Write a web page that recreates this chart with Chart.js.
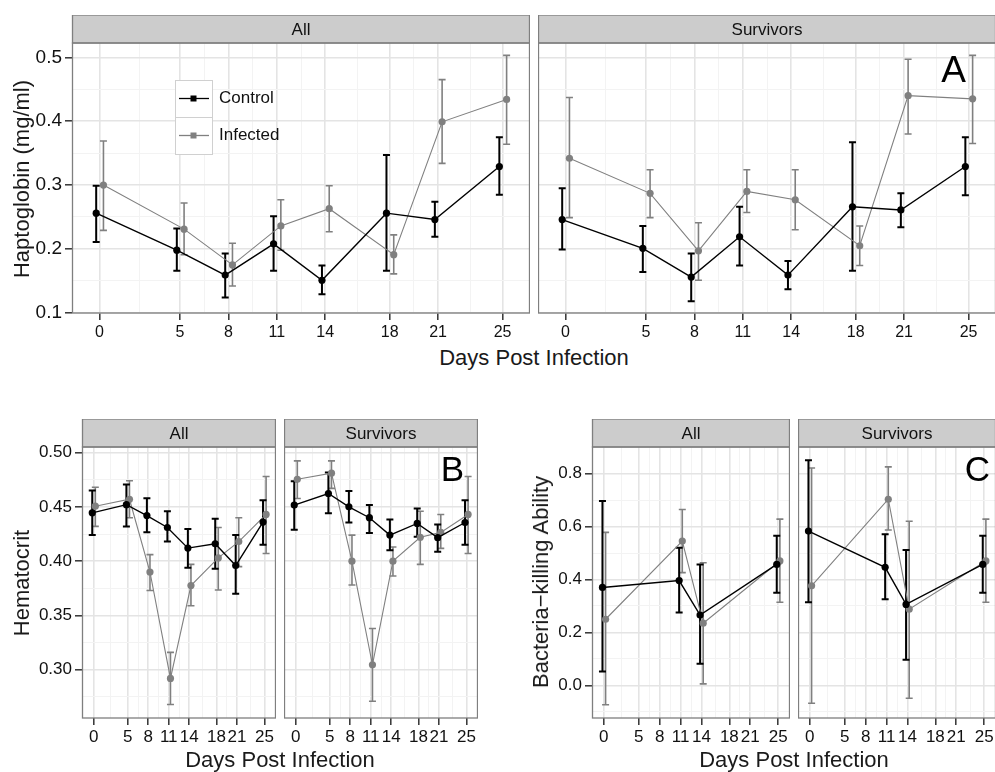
<!DOCTYPE html>
<html>
<head>
<meta charset="utf-8">
<script src="https://cdn.jsdelivr.net/npm/chart.js@4.4.1/dist/chart.umd.min.js"></script>
<style>
  html, body { margin: 0; padding: 0; background: #fff; overflow: hidden; width: 995px; height: 772px; }
  canvas { position: absolute; }
  .t { position: absolute; font-family: "Liberation Sans", Arial, sans-serif; font-size: 22px; color: #1a1a1a; white-space: nowrap; }
  .yt { transform: translate(-50%, -50%) rotate(-90deg); }
  .xt { transform: translate(-50%, -50%); }
</style>
</head>
<body>
<canvas id="aAll"></canvas>
<canvas id="aSurv"></canvas>
<canvas id="bAll"></canvas>
<canvas id="bSurv"></canvas>
<canvas id="cAll"></canvas>
<canvas id="cSurv"></canvas>

<div class="t yt" style="left:22px; top:179px;">Haptoglobin (mg/ml)</div>
<div class="t xt" style="left:534px; top:358px;">Days Post Infection</div>
<div class="t yt" style="left:22px; top:583px;">Hematocrit</div>
<div class="t xt" style="left:280px; top:760px;">Days Post Infection</div>
<div class="t yt" style="left:541px; top:582px;">Bacteria−killing Ability</div>
<div class="t xt" style="left:794px; top:760px;">Days Post Infection</div>

<script>
// sampling days
const days = [0, 5, 8, 11, 14, 18, 21, 25];
const daysKilling = [0, 11, 14, 25];
const xTicks = [0, 5, 8, 11, 14, 18, 21, 25];
const xMinor = [2.5, 6.5, 9.5, 12.5, 16, 19.5, 23];

// A: haptoglobin (mg/ml)
const haptoTicks = [0.1, 0.2, 0.3, 0.4, 0.5];
const haptoLabels = ['0.1', '0.2', '0.3', '0.4', '0.5'];
const haptoMinor = [0.15, 0.25, 0.35, 0.45];
const haptoAllControl   = [0.256, 0.198, 0.159, 0.208, 0.151, 0.256, 0.246, 0.329];
const haptoAllControlLo = [0.211, 0.166, 0.124, 0.166, 0.129, 0.166, 0.219, 0.285];
const haptoAllControlHi = [0.299, 0.232, 0.193, 0.251, 0.174, 0.347, 0.274, 0.375];
const haptoAllInf   = [0.300, 0.231, 0.175, 0.236, 0.263, 0.191, 0.399, 0.434];
const haptoAllInfLo = [0.229, 0.191, 0.142, 0.198, 0.227, 0.161, 0.334, 0.364];
const haptoAllInfHi = [0.369, 0.272, 0.209, 0.277, 0.299, 0.222, 0.465, 0.503];
const haptoSurvControl   = [0.246, 0.201, 0.156, 0.219, 0.159, 0.266, 0.261, 0.329];
const haptoSurvControlLo = [0.199, 0.164, 0.118, 0.174, 0.137, 0.166, 0.234, 0.284];
const haptoSurvControlHi = [0.295, 0.236, 0.193, 0.266, 0.181, 0.367, 0.287, 0.375];
const haptoSurvInf   = [0.342, 0.287, 0.197, 0.290, 0.277, 0.205, 0.440, 0.435];
const haptoSurvInfLo = [0.249, 0.249, 0.151, 0.257, 0.230, 0.174, 0.380, 0.365];
const haptoSurvInfHi = [0.437, 0.324, 0.241, 0.324, 0.324, 0.236, 0.497, 0.503];

// B: hematocrit
const hctTicks = [0.30, 0.35, 0.40, 0.45, 0.50];
const hctLabels = ['0.30', '0.35', '0.40', '0.45', '0.50'];
const hctMinor = [0.275, 0.325, 0.375, 0.425, 0.475];
const hctAllControl   = [0.4445, 0.452, 0.442, 0.431, 0.412, 0.416, 0.396, 0.436];
const hctAllControlLo = [0.424, 0.432, 0.4265, 0.418, 0.394, 0.393, 0.370, 0.415];
const hctAllControlHi = [0.465, 0.4705, 0.458, 0.446, 0.4295, 0.439, 0.424, 0.456];
const hctAllInf   = [0.4506, 0.457, 0.390, 0.292, 0.3775, 0.403, 0.418, 0.443];
const hctAllInfLo = [0.432, 0.440, 0.373, 0.268, 0.359, 0.3735, 0.395, 0.407];
const hctAllInfHi = [0.468, 0.474, 0.406, 0.316, 0.397, 0.431, 0.440, 0.478];
const hctSurvControl   = [0.4516, 0.4623, 0.450, 0.440, 0.424, 0.4347, 0.4216, 0.4356];
const hctSurvControlLo = [0.429, 0.444, 0.4356, 0.426, 0.410, 0.4225, 0.4087, 0.415];
const hctSurvControlHi = [0.4736, 0.4816, 0.4647, 0.4516, 0.4384, 0.4485, 0.4338, 0.456];
const hctSurvInf   = [0.4754, 0.481, 0.400, 0.3046, 0.400, 0.422, 0.4265, 0.443];
const hctSurvInfLo = [0.4577, 0.467, 0.378, 0.271, 0.3863, 0.397, 0.4118, 0.407];
const hctSurvInfHi = [0.4923, 0.4923, 0.424, 0.338, 0.413, 0.446, 0.443, 0.478];

// C: bacteria-killing ability
const bkaTicks = [0.0, 0.2, 0.4, 0.6, 0.8];
const bkaLabels = ['0.0', '0.2', '0.4', '0.6', '0.8'];
const bkaMinor = [-0.1, 0.1, 0.3, 0.5, 0.7];
const bkaAllControl   = [0.370, 0.396, 0.266, 0.457];
const bkaAllControlLo = [0.053, 0.275, 0.082, 0.350];
const bkaAllControlHi = [0.696, 0.520, 0.457, 0.565];
const bkaAllInf   = [0.250, 0.545, 0.235, 0.470];
const bkaAllInfLo = [-0.073, 0.426, 0.006, 0.314];
const bkaAllInfHi = [0.578, 0.664, 0.463, 0.628];
const bkaSurvControl   = [0.583, 0.446, 0.306, 0.457];
const bkaSurvControlLo = [0.314, 0.325, 0.097, 0.350];
const bkaSurvControlHi = [0.850, 0.571, 0.511, 0.565];
const bkaSurvInf   = [0.376, 0.703, 0.288, 0.470];
const bkaSurvInfLo = [-0.067, 0.587, -0.048, 0.314];
const bkaSurvInfHi = [0.821, 0.825, 0.620, 0.628];

const FONT = '"Liberation Sans", Arial, sans-serif';
const TEXT = '#111111';
const GRID_MAJOR = '#e4e4e4';
const GRID_MINOR = '#f3f3f3';
const CONTROL = '#000000';
const INFECTED = '#808080';

function tickList(major, minor) {
  return major.map(v => ({ value: v }))
    .concat(minor.map(v => ({ value: v, minor: true })))
    .sort((a, b) => a.value - b.value);
}

// vertical error bars, drawn under the lines
const errorBars = {
  id: 'errorBars',
  beforeDatasetsDraw(chart) {
    const { ctx, scales: { x, y } } = chart;
    ctx.save();
    chart.data.datasets.slice().reverse().forEach(ds => {
      ctx.strokeStyle = ds.borderColor;
      ctx.lineWidth = ds.barWidth;
      ds.data.forEach((p, i) => {
        const px = x.getPixelForValue(p.x);
        const top = y.getPixelForValue(ds.hi[i]);
        const bot = y.getPixelForValue(ds.lo[i]);
        ctx.beginPath();
        ctx.moveTo(px, top); ctx.lineTo(px, bot);
        ctx.moveTo(px - 3.5, top); ctx.lineTo(px + 3.5, top);
        ctx.moveTo(px - 3.5, bot); ctx.lineTo(px + 3.5, bot);
        ctx.stroke();
      });
    });
    ctx.restore();
  }
};

// strip, frame, panel letter, legend
const panelDeco = {
  id: 'panelDeco',
  afterDraw(chart, args, opts) {
    const { ctx, chartArea: a } = chart;
    ctx.save();
    // strip
    ctx.fillStyle = '#cccccc';
    ctx.fillRect(a.left, a.top - 28, a.right - a.left, 28);
    ctx.strokeStyle = '#7f7f7f';
    ctx.lineWidth = 1.3;
    ctx.strokeRect(a.left + 0.5, a.top - 28, a.right - a.left - 1, 28);
    ctx.fillStyle = TEXT;
    ctx.font = '17px ' + FONT;
    ctx.textAlign = 'center';
    ctx.textBaseline = 'middle';
    ctx.fillText(opts.strip, (a.left + a.right) / 2, a.top - 13);
    // frame
    ctx.strokeRect(a.left + 0.5, a.top, a.right - a.left - 1, a.bottom - a.top);
    // letter
    if (opts.letter) {
      ctx.fillStyle = '#000';
      ctx.font = opts.letterSize + 'px ' + FONT;
      ctx.textAlign = 'right';
      ctx.textBaseline = 'alphabetic';
      ctx.fillText(opts.letter, a.right - opts.letterInset, a.top + opts.letterDrop);
    }
    // legend
    if (opts.legend) {
      const lx = a.left + 103, ly = a.top + 37, k = 37;
      opts.legend.forEach((item, i) => {
        const top = ly + i * k;
        ctx.fillStyle = '#fff';
        ctx.fillRect(lx, top, k, k);
        ctx.strokeStyle = '#d0d0d0';
        ctx.lineWidth = 1;
        ctx.strokeRect(lx + 0.5, top + 0.5, k, k);
        ctx.strokeStyle = item.color;
        ctx.lineWidth = 1.3;
        ctx.beginPath();
        ctx.moveTo(lx + 4, top + k / 2); ctx.lineTo(lx + k - 3, top + k / 2);
        ctx.stroke();
        ctx.fillStyle = item.color;
        ctx.fillRect(lx + k / 2 - 3, top + k / 2 - 3, 6, 6);
        ctx.fillStyle = TEXT;
        ctx.font = '17px ' + FONT;
        ctx.textAlign = 'left';
        ctx.textBaseline = 'middle';
        ctx.fillText(item.label, lx + k + 7, top + k / 2);
      });
    }
    ctx.restore();
  }
};

function makePanel(cfg) {
  const canvas = document.getElementById(cfg.id);
  canvas.width = cfg.w;
  canvas.height = cfg.h;
  canvas.style.left = cfg.left + 'px';
  canvas.style.top = cfg.top + 'px';

  const datasets = cfg.series.map(s => ({
    label: s.label,
    data: cfg.days.map((d, i) => ({ x: d + s.dodge, y: s.mean[i] })),
    lo: s.lo,
    hi: s.hi,
    borderColor: s.color,
    backgroundColor: s.color,
    borderWidth: s.lineWidth,
    barWidth: s.barWidth,
    pointRadius: 3.6,
    pointHoverRadius: 3.6,
    pointBorderWidth: 0,
    tension: 0
  }));

  const gridColor = c => (c.tick && c.tick.minor) ? GRID_MINOR : GRID_MAJOR;
  const gridWidth = c => (c.tick && c.tick.minor) ? 1 : 1.6;
  const tickColor = c => (c.tick && c.tick.minor) ? 'rgba(0,0,0,0)' : '#333333';

  return new Chart(canvas, {
    type: 'line',
    data: { datasets },
    options: {
      responsive: false,
      animation: false,
      events: [],
      layout: { autoPadding: false, padding: { top: 28, left: 0, right: 0, bottom: 0 } },
      plugins: {
        legend: { display: false },
        tooltip: { enabled: false },
        panelDeco: cfg.deco
      },
      scales: {
        x: {
          type: 'linear',
          min: -1.7,
          max: 26.7,
          afterBuildTicks: s => { s.ticks = tickList(xTicks, xMinor); },
          afterFit: s => { s.height = cfg.xAxisH; },
          border: { display: false },
          grid: { color: gridColor, lineWidth: gridWidth, tickColor: tickColor, tickLength: 7, tickWidth: 1.5 },
          ticks: {
            autoSkip: false, maxRotation: 0, minRotation: 0,
            padding: cfg.xPad,
            color: TEXT,
            font: { family: FONT, size: cfg.xFont },
            callback: (v, i, t) => t[i].minor ? '' : String(v)
          }
        },
        y: {
          type: 'linear',
          min: cfg.yMin,
          max: cfg.yMax,
          afterBuildTicks: s => { s.ticks = tickList(cfg.yTicks, cfg.yMinor); },
          afterFit: s => { s.width = cfg.yAxisW; },
          border: { display: false },
          grid: {
            color: gridColor, lineWidth: gridWidth, tickColor: tickColor,
            tickLength: cfg.showY ? 7 : 0, tickWidth: 1.5, drawTicks: cfg.showY
          },
          ticks: {
            display: cfg.showY,
            padding: 3,
            color: TEXT,
            font: { family: FONT, size: cfg.yFont },
            callback: (v, i, t) => t[i].minor ? '' : cfg.yLabels[cfg.yTicks.indexOf(t[i].value)]
          }
        }
      }
    },
    plugins: [errorBars, panelDeco]
  });
}

function series(mean, lo, hi, control) {
  return {
    label: control ? 'Control' : 'Infected',
    mean, lo, hi,
    color: control ? CONTROL : INFECTED,
    dodge: control ? -0.2 : 0.25,
    lineWidth: control ? 1.4 : 1.1,
    barWidth: control ? 2 : 1.6
  };
}

const panelA = { days, yTicks: haptoTicks, yLabels: haptoLabels, yMinor: haptoMinor,
  yMin: 0.0997, yMax: 0.5224, xAxisH: 32, xPad: 3, xFont: 16, yFont: 19, top: 15, h: 330 };
const panelB = { days, yTicks: hctTicks, yLabels: hctLabels, yMinor: hctMinor,
  yMin: 0.2556, yMax: 0.5051, xAxisH: 30, xPad: 2, xFont: 17, yFont: 17, top: 419, h: 329 };
const panelC = { days: daysKilling, yTicks: bkaTicks, yLabels: bkaLabels, yMinor: bkaMinor,
  yMin: -0.1228, yMax: 0.9002, xAxisH: 30, xPad: 2, xFont: 17, yFont: 17, top: 419, h: 329 };

makePanel(Object.assign({}, panelA, {
  id: 'aAll', left: 0, w: 530, yAxisW: 72, showY: true,
  series: [series(haptoAllControl, haptoAllControlLo, haptoAllControlHi, true),
           series(haptoAllInf, haptoAllInfLo, haptoAllInfHi, false)],
  deco: { strip: 'All', legend: [{ label: 'Control', color: CONTROL }, { label: 'Infected', color: INFECTED }] }
}));
makePanel(Object.assign({}, panelA, {
  id: 'aSurv', left: 538, w: 458, yAxisW: 0, showY: false,
  series: [series(haptoSurvControl, haptoSurvControlLo, haptoSurvControlHi, true),
           series(haptoSurvInf, haptoSurvInfLo, haptoSurvInfHi, false)],
  deco: { strip: 'Survivors', letter: 'A', letterSize: 37, letterInset: 30, letterDrop: 39 }
}));
makePanel(Object.assign({}, panelB, {
  id: 'bAll', left: 0, w: 276, yAxisW: 82, showY: true,
  series: [series(hctAllControl, hctAllControlLo, hctAllControlHi, true),
           series(hctAllInf, hctAllInfLo, hctAllInfHi, false)],
  deco: { strip: 'All' }
}));
makePanel(Object.assign({}, panelB, {
  id: 'bSurv', left: 284, w: 194, yAxisW: 0, showY: false,
  series: [series(hctSurvControl, hctSurvControlLo, hctSurvControlHi, true),
           series(hctSurvInf, hctSurvInfLo, hctSurvInfHi, false)],
  deco: { strip: 'Survivors', letter: 'B', letterSize: 35, letterInset: 14, letterDrop: 34 }
}));
makePanel(Object.assign({}, panelC, {
  id: 'cAll', left: 520, w: 270, yAxisW: 72, showY: true,
  series: [series(bkaAllControl, bkaAllControlLo, bkaAllControlHi, true),
           series(bkaAllInf, bkaAllInfLo, bkaAllInfHi, false)],
  deco: { strip: 'All' }
}));
makePanel(Object.assign({}, panelC, {
  id: 'cSurv', left: 798, w: 198, yAxisW: 0, showY: false,
  series: [series(bkaSurvControl, bkaSurvControlLo, bkaSurvControlHi, true),
           series(bkaSurvInf, bkaSurvInfLo, bkaSurvInfHi, false)],
  deco: { strip: 'Survivors', letter: 'C', letterSize: 35, letterInset: 6, letterDrop: 34 }
}));
</script>
</body>
</html>
